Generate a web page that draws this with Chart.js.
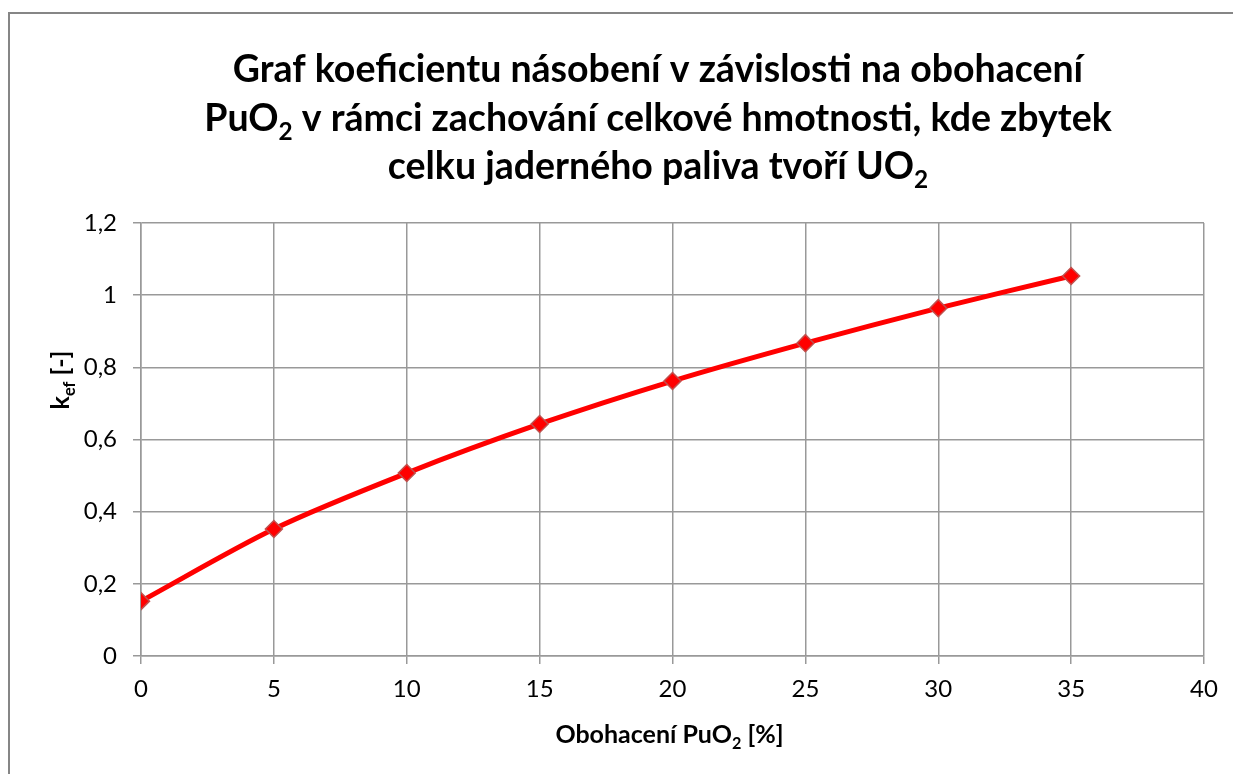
<!DOCTYPE html>
<html>
<head>
<meta charset="utf-8">
<script src="https://cdn.jsdelivr.net/npm/chart.js@4"></script>
<style>
  html, body { margin: 0; padding: 0; background: #fff; }
  #wrap { width: 1233px; height: 774px; }
</style>
</head>
<body>
<div id="wrap"><canvas id="kefChart" width="1233" height="774"></canvas></div>
<script>
// enrichment PuO2 [%] and multiplication factor k_ef [-]
const enrichment = [0, 5, 10, 15, 20, 25, 30, 35];
const kef = [0.152, 0.352, 0.507, 0.643, 0.762, 0.867, 0.964, 1.053];

const xTicks = [0, 5, 10, 15, 20, 25, 30, 35, 40];
const yTicks = [0, 0.2, 0.4, 0.6, 0.8, 1, 1.2];

// title lines, split into runs so subscripts can be drawn smaller and lower
const titleLines = [
  [["Graf koeficientu násobení v závislosti na obohacení"]],
  [["PuO"], ["2", "sub"], [" v rámci zachování celkové hmotnosti, kde zbytek"]],
  [["celku jaderného paliva tvoří UO"], ["2", "sub"]]
];
const xTitle = [["Obohacení PuO"], ["2", "sub"], [" [%]"]];
const yTitle = [["k"], ["ef", "sub"], [" [-]"]];

const FONT = "Lato, 'Open Sans', sans-serif";

function runsWidth(ctx, runs, size) {
  let w = 0;
  runs.forEach(r => {
    ctx.font = "bold " + (r[1] ? size * 0.65 : size) + "px " + FONT;
    w += ctx.measureText(r[0]).width;
  });
  return w;
}

function drawRuns(ctx, runs, x, y, size) {
  runs.forEach(r => {
    const s = r[1] ? size * 0.65 : size;
    ctx.font = "bold " + s + "px " + FONT;
    ctx.fillText(r[0], x, r[1] ? y + size * 0.25 : y);
    x += ctx.measureText(r[0]).width;
  });
}

const textPlugin = {
  id: "textPlugin",
  afterDraw(chart) {
    const ctx = chart.ctx;
    ctx.save();
    // outer frame
    ctx.strokeStyle = "#868686";
    ctx.lineWidth = 2;
    ctx.strokeRect(9, 13, 1240, 780);

    ctx.fillStyle = "#000";
    ctx.textBaseline = "alphabetic";
    ctx.textAlign = "left";
    titleLines.forEach((runs, i) => {
      const w = runsWidth(ctx, runs, 37.5);
      drawRuns(ctx, runs, 658 - w / 2, 82 + i * 48.5, 37.5);
    });

    const area = chart.chartArea;
    const xw = runsWidth(ctx, xTitle, 25);
    drawRuns(ctx, xTitle, (area.left + area.right) / 2 - 3 - xw / 2, 743, 25);

    ctx.translate(69, 380);
    ctx.rotate(-Math.PI / 2);
    const yw = runsWidth(ctx, yTitle, 25);
    drawRuns(ctx, yTitle, -yw / 2, 0, 25);
    ctx.restore();
  }
};

const gridColor = "#999999";

new Chart(document.getElementById("kefChart"), {
  type: "line",
  data: {
    datasets: [{
      data: enrichment.map((x, i) => ({ x: x, y: kef[i] })),
      borderColor: "#ff0000",
      borderWidth: 5,
      tension: 0.3,
      pointStyle: "rectRot",
      pointRadius: 8.5,
      pointBackgroundColor: "#ff0000",
      pointBorderColor: "#c0504d",
      pointBorderWidth: 1.5
    }]
  },
  options: {
    responsive: false,
    animation: false,
    layout: { padding: { left: 0, right: 29, top: 223, bottom: 0 } },
    plugins: {
      legend: { display: false },
      tooltip: { enabled: false }
    },
    scales: {
      x: {
        type: "linear",
        min: 0,
        max: 40,
        afterBuildTicks: s => { s.ticks = xTicks.map(v => ({ value: v })); },
        afterFit: s => { s.height = 774 - 656; },
        grid: { color: gridColor, lineWidth: 1.5, tickLength: 8, tickColor: gridColor },
        border: { color: gridColor, width: 1.5 },
        ticks: {
          color: "#000",
          padding: 11,
          font: { family: FONT, size: 24 }
        }
      },
      y: {
        min: 0,
        max: 1.2,
        afterBuildTicks: s => { s.ticks = yTicks.map(v => ({ value: v })); },
        afterFit: s => { s.width = 141; },
        grid: { color: gridColor, lineWidth: 1.5, tickLength: 8, tickColor: gridColor },
        border: { color: gridColor, width: 1.5 },
        ticks: {
          color: "#000",
          padding: 16,
          font: { family: FONT, size: 24 },
          callback: v => String(Math.round(v * 10) / 10).replace(".", ",")
        }
      }
    }
  },
  plugins: [textPlugin]
});
</script>
</body>
</html>
